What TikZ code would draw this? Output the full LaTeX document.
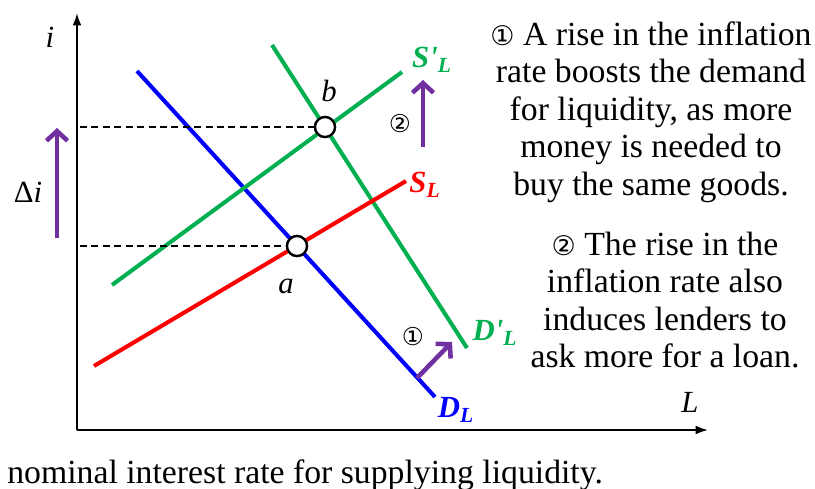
\documentclass[tikz,border=0pt]{standalone}
\usepackage{amsmath,amssymb}
\usepackage{fontspec}
\setmainfont{Liberation Serif}
\newfontfamily\symfont[Scale=0.8]{DejaVu Sans}
\usetikzlibrary{arrows.meta}
\definecolor{mygreen}{RGB}{0,176,80}
\definecolor{mypurple}{RGB}{112,48,160}
\newcommand{\cnum}[1]{{\symfont #1}}
\newcommand{\clab}[2]{{\bfseries\itshape #1#2\textsubscript{L}}}

\begin{document}
\begin{tikzpicture}[x=0.02cm,y=-0.02cm]
\tikzset{crv/.style={line width=2.3pt},
         ax/.style={line width=1.1pt,-{Latex[length=7pt,width=5pt]}},
         dsh/.style={dash pattern=on 4pt off 2.5pt,line width=0.7pt},
         pt/.style={circle,draw,fill=white,minimum size=0.4cm,inner sep=0pt,line width=1.3pt},
         shft/.style={draw=mypurple,line width=2.6pt,-{Straight Barb[length=5.5pt,width=12pt]}},
         lab/.style={inner sep=0pt,font=\fontsize{17.5}{18}\selectfont},
         txt/.style={align=center,inner sep=0pt,font=\fontsize{19.2}{21.3}\selectfont}}
\useasboundingbox (0,0) rectangle (815,488);
% axes
\coordinate (o) at (77,430);
\coordinate (ytop) at (77,13);
\coordinate (xend) at (708,430);
\draw[ax] (o) -- (ytop);
\draw[ax] (o) -- (xend);
\node[lab] (li) at (50,37) {\textit{i}};
\node[lab] (lL) at (690,402) {\textit{L}};
% equilibria
\node[pt] (a) at (297,246) {};
\node[pt] (b) at (325,127) {};
\coordinate (ya) at (80,246);
\coordinate (yb) at (80,127);
% curves
\coordinate (d1) at (137,71);
\coordinate (d2) at (435,397);
\coordinate (dd1) at (272,45);
\coordinate (dd2) at (467,348);
\coordinate (s1) at (94,366);
\coordinate (s2) at (406,181);
\coordinate (ss1) at (112,285);
\coordinate (ss2) at (402,72);
\draw[crv,draw=blue] (d1) -- (d2);
\draw[crv,draw=mygreen] (dd1) -- (dd2);
\draw[crv,draw=red] (s1) -- (s2);
\draw[crv,draw=mygreen] (ss1) -- (ss2);
\draw[dsh] (ya) -- (a);
\draw[dsh] (yb) -- (b);
\node[pt] at (a) {};
\node[pt] at (b) {};
\node[lab] (la) at (286,286) {\textit{a}};
\node[lab] (lb) at (329,91) {\textit{b}};
\node[lab,text=mygreen] (lss) at (432,60) {\clab{S}{\textquotesingle}};
\node[lab,text=red] (ls) at (425,185) {\clab{S}{}};
\node[lab,text=mygreen] (ldd) at (495,333) {\clab{D}{\textquotesingle}};
\node[lab,text=blue] (ld) at (456,410) {\clab{D}{}};
% shifts
\coordinate (p1) at (57,238);
\coordinate (p2) at (57,128);
\draw[shft] (p1) -- (p2);
\node[lab] (ldi) at (28,192) {Δ\textit{i}};
\coordinate (q1) at (423,147);
\coordinate (q2) at (423,80);
\draw[shft] (q1) -- (q2);
\node[lab] (n2) at (400,124) {\cnum{②}};
\coordinate (r1) at (417,378);
\coordinate (r2) at (452,342);
\draw[shft] (r1) -- (r2);
\node[lab] (n1) at (413,337) {\cnum{①}};
% text
\node[txt] (t1) at (651,112) {\cnum{①} A rise in the inflation\\rate boosts the demand\\for liquidity, as more\\money is needed to\\buy the same goods.};
\node[txt] (t2) at (665,300) {\cnum{②} The rise in the\\inflation rate also\\induces lenders to\\ask more for a loan.};
\node[txt,anchor=base west] (cap) at (7,483) {nominal interest rate for supplying liquidity.};
\end{tikzpicture}
\end{document}
